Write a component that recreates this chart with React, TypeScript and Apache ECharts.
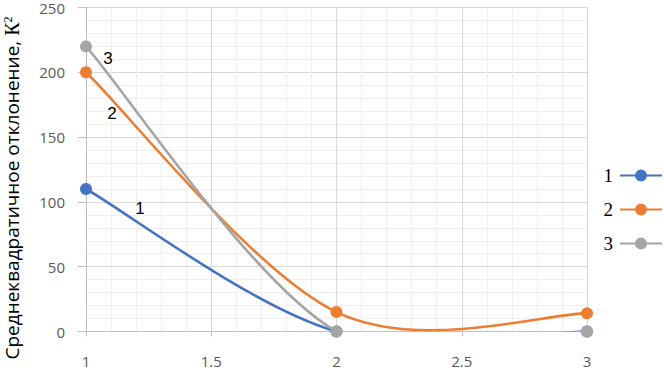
import React, { useEffect, useRef } from "react";
import * as echarts from "echarts";

const xValues = [1, 2, 3];
const series1 = [110, 0, 0];
const series2 = [200, 15, 14];
const series3 = [220, 0, 0];
const seriesNames = ["1", "2", "3"];
const colors = ["#4472C4", "#ED7D31", "#A5A5A5"];
const xTicks = { min: 1, max: 3, interval: 0.5 };
const yTicks = { min: 0, max: 250, interval: 50 };
const curveLabels = [
  { text: "1", x: 140, y: 208 },
  { text: "2", x: 112, y: 113 },
  { text: "3", x: 108, y: 58 },
];
const yAxisTitle = "Среднеквадратичное отклонение, ";

const legendIcon =
  "path://M0,5H42V7H0Z M27,6A6,6 0 1,1 15,6A6,6 0 1,1 27,6Z";

function makeRenderItem(vals: number[], color: string) {
  return (params: any, api: any) => {
    const i = params.dataIndex;
    const pts = vals.map((v, j) => api.coord([xValues[j], v]));
    const n = pts.length;
    if (i >= n - 1) return { type: "group", children: [] };
    const p0 = pts[Math.max(i - 1, 0)];
    const p1 = pts[i];
    const p2 = pts[i + 1];
    const p3 = pts[Math.min(i + 2, n - 1)];
    const cp1 = [p1[0] + (p2[0] - p0[0]) / 6, p1[1] + (p2[1] - p0[1]) / 6];
    const cp2 = [p2[0] - (p3[0] - p1[0]) / 6, p2[1] - (p3[1] - p1[1]) / 6];
    return {
      type: "bezierCurve",
      shape: {
        x1: p1[0], y1: p1[1], x2: p2[0], y2: p2[1],
        cpx1: cp1[0], cpy1: cp1[1], cpx2: cp2[0], cpy2: cp2[1],
      },
      style: { stroke: color, lineWidth: 2.6, fill: null, lineCap: "round" },
    };
  };
}

export default function App() {
  const ref = useRef<HTMLDivElement>(null);
  useEffect(() => {
    if (!ref.current) return;
    const chart = echarts.init(ref.current, null, { renderer: "svg" });
    const all = [series1, series2, series3];
    const lineSeries = all.map((vals, i) => ({
      name: seriesNames[i],
      type: "custom",
      clip: true,
      data: vals.map((v, j) => [xValues[j], v]),
      encode: { x: 0, y: 1 },
      itemStyle: { color: colors[i] },
      renderItem: makeRenderItem(vals, colors[i]),
      z: 2 + i * 2,
    }));
    const pointSeries = all.map((vals, i) => ({
      name: seriesNames[i],
      type: "scatter",
      clip: false,
      symbol: "circle",
      symbolSize: 12,
      data: vals.map((v, j) => [xValues[j], v]),
      itemStyle: { color: colors[i], opacity: 1 },
      z: 3 + i * 2,
    }));
    chart.setOption({
      animation: false,
      grid: { left: 86, right: 77, top: 7, bottom: 39.5 },
      xAxis: {
        type: "value",
        ...xTicks,
        axisLine: { show: true, onZero: false, lineStyle: { color: "#bfbfbf", width: 1 } },
        axisTick: { show: true, length: 5, lineStyle: { color: "#bfbfbf" } },
        axisLabel: { color: "#595959", fontSize: 15, fontFamily: "Open Sans", margin: 22 },
        splitLine: { show: true, lineStyle: { color: "#d9d9d9" } },
        minorTick: { show: false, splitNumber: 5 },
        minorSplitLine: { show: true, lineStyle: { color: "#efefef" } },
      },
      yAxis: {
        type: "value",
        ...yTicks,
        axisLine: { show: true, lineStyle: { color: "#bfbfbf" } },
        axisTick: { show: true, length: 8, lineStyle: { color: "#bfbfbf" } },
        axisLabel: { color: "#595959", fontSize: 15, fontFamily: "Open Sans", margin: 21 },
        splitLine: { show: true, lineStyle: { color: "#d9d9d9" } },
        minorTick: { show: false, splitNumber: 5 },
        minorSplitLine: { show: true, lineStyle: { color: "#efefef" } },
      },
      legend: {
        orient: "vertical",
        right: 2,
        top: 166,
        padding: 0,
        align: "right",
        itemWidth: 42,
        itemHeight: 12,
        itemGap: 15,
        textStyle: { fontFamily: "Liberation Serif", fontSize: 19, color: "#000", padding: [0, 2, 0, 0] },
        data: seriesNames.map((nm) => ({ name: nm, icon: legendIcon })),
      },
      series: [...lineSeries, ...pointSeries],
      graphic: [
        ...curveLabels.map((l) => ({
          type: "text",
          x: l.x,
          y: l.y,
          z: 10,
          style: {
            text: l.text,
            fontSize: 17,
            fontFamily: "Liberation Sans",
            fill: "#000",
            align: "center",
            verticalAlign: "middle",
          },
        })),
        {
          type: "text",
          x: 12,
          y: 188,
          rotation: Math.PI / 2,
          style: {
            text: "{a|" + yAxisTitle + "}{b|К}{c|2}",
            rich: {
              a: { fontSize: 19, fontFamily: "Open Sans", color: "#595959" },
              b: { fontSize: 20, fontFamily: "Liberation Serif", color: "#595959" },
              c: { fontSize: 12, fontFamily: "Liberation Serif", color: "#595959", verticalAlign: "top", padding: [0, 0, 9, 0] },
            },
            align: "center",
            verticalAlign: "middle",
          },
        },
      ],
    });
    return () => chart.dispose();
  }, []);
  return <div ref={ref} style={{ width: 664, height: 371, position: "absolute", left: 0, top: 0, background: "#fff" }} />;
}
